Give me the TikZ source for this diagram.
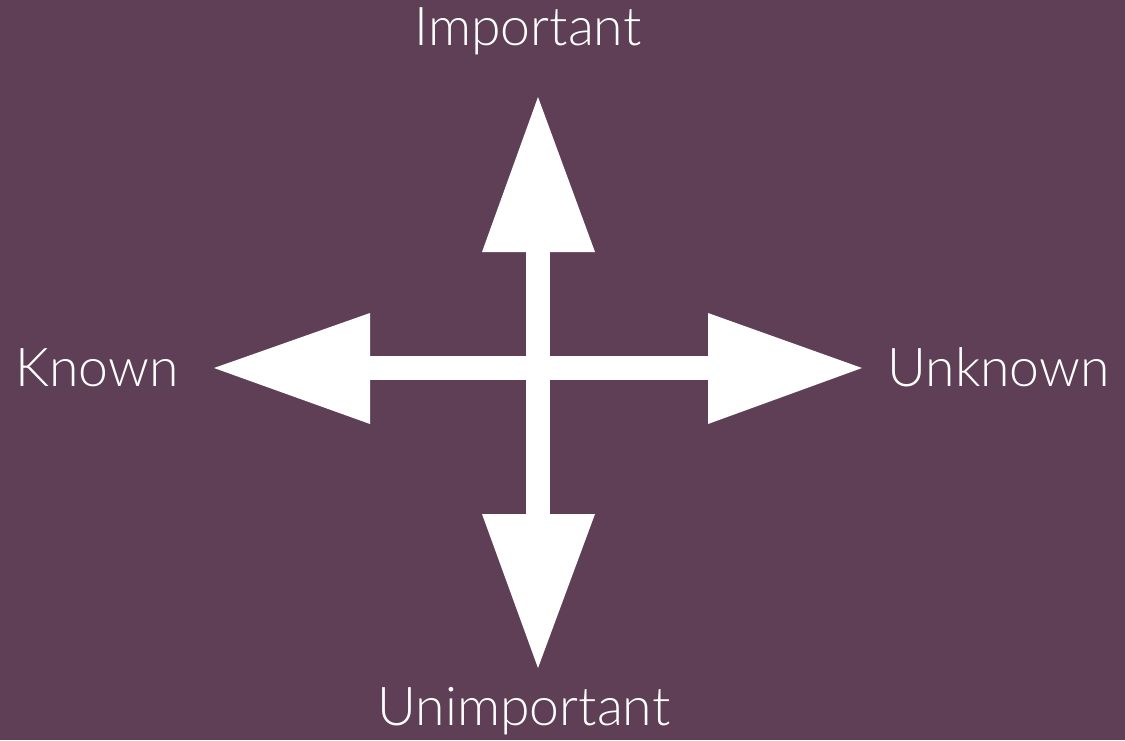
\documentclass[tikz,border=0pt]{standalone}
\usepackage{fontspec}
\setmainfont{Lato}[UprightFont=* Light]
\definecolor{bgpurple}{RGB}{95,63,85}
\begin{document}
\begin{tikzpicture}[x=1pt,y=-1pt,
  lbl/.style={text=white,font=\fontsize{53.5}{62}\selectfont,inner sep=0pt},
  arr/.style={fill=white,draw=none}]
\fill[bgpurple] (0,0) rectangle (1125,740);
\useasboundingbox (0,0) rectangle (1125,740);
% shafts
\fill[arr] (526,252) rectangle (550,514);
\fill[arr] (370,356) rectangle (708,380);
% arrowheads
\fill[arr] (538,97) -- (595,252) -- (482,252) -- cycle;
\fill[arr] (538,668) -- (595,514) -- (482,514) -- cycle;
\fill[arr] (214,368) -- (370,313) -- (370,424) -- cycle;
\fill[arr] (862,368) -- (708,313) -- (708,424) -- cycle;
% labels
\node[lbl,anchor=base] (imp) at (528,45) {Important};
\node[lbl,anchor=base] (unimp) at (524,725) {Unimportant};
\node[lbl,anchor=base west] (known) at (15,386) {Known};
\node[lbl,anchor=base east] (unknown) at (1110,386) {Unknown};
\end{tikzpicture}
\end{document}
